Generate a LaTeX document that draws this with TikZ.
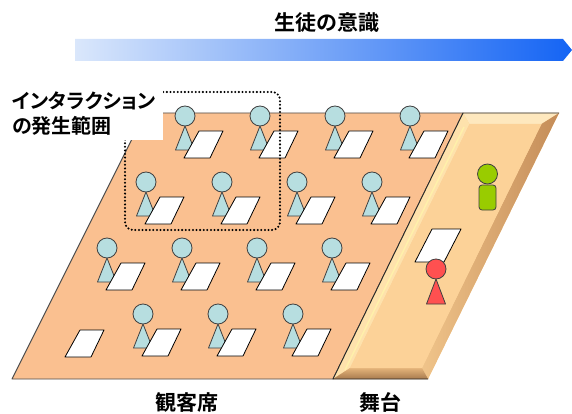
\documentclass[tikz,border=0pt]{standalone}
\usepackage{fontspec}
\setmainfont{Noto Sans CJK JP}[BoldFont={Noto Sans CJK JP Bold}, RawFeature=+palt]
\begin{document}
\begin{tikzpicture}[x=1pt,y=-1pt,
  lbl/.style={font=\bfseries\fontsize{20}{20}\selectfont, inner sep=0pt},
  floorfill/.style={fill=floorc, draw=black!70, line width=0.9pt, line join=round},
  personbody/.style={fill=viewerc, draw=black!75, line width=0.8pt, line join=round},
  paper/.style={fill=white, draw=black, line width=0.8pt, line join=round},
  zone/.style={draw=black, line width=2.3pt, line cap=round, dash pattern=on 0pt off 3.6pt, rounded corners=8pt},
  viewer/.pic={
    \filldraw[personbody] (0,10) -- (-9.5,34) -- (9.5,34) -- cycle;
    \filldraw[personbody] (0,0) circle[radius=10pt];
    \filldraw[paper] (-1,42) -- (25,42) -- (38,15) -- (14,15) -- cycle;
  },
  desk/.pic={
    \filldraw[paper] (-1,42) -- (25,42) -- (38,15) -- (14,15) -- cycle;
  }]
\definecolor{floorc}{RGB}{250,192,144}
\definecolor{viewerc}{RGB}{183,222,224}
\definecolor{stageface}{RGB}{252,210,152}
\definecolor{arrowlight}{RGB}{218,231,251}
\definecolor{arrowmid}{RGB}{165,188,248}
\definecolor{arrowdark}{RGB}{20,100,244}
\useasboundingbox (0,0) rectangle (572,414);

% awareness arrow and its heading
\shade[left color=arrowlight, middle color=arrowmid, right color=arrowdark]
  (75,39) -- (563,39) -- (572,50) -- (563,61) -- (75,61) -- cycle;
\node[lbl, font=\bfseries\fontsize{21}{21}\selectfont] (title) at (327,23) {生徒の意識};

% audience floor
\filldraw[floorfill] (145,113) -- (463,113) -- (333,379) -- (12,379) -- cycle;

% bevelled stage
\coordinate (sA) at (463,113);
\coordinate (sB) at (559,113);
\coordinate (sC) at (428,379);
\coordinate (sD) at (333,379);
\coordinate (ia) at (469.5,124);
\coordinate (ib) at (541.5,124);
\coordinate (ic) at (422,368);
\coordinate (id) at (350,368);
\fill[stageface] (sA) -- (sB) -- (sC) -- (sD) -- cycle;
\fill[color={rgb,255:red,254;green,232;blue,190}] (sA) -- (sB) -- (ib) -- (ia) -- cycle;
\fill[color={rgb,255:red,254;green,226;blue,172}] (sA) -- (ia) -- (id) -- (sD) -- cycle;
\shade[left color={rgb,255:red,240;green,196;blue,138}, right color={rgb,255:red,196;green,140;blue,88}]
  (sB) -- (sC) -- (ic) -- (ib) -- cycle;
\shade[top color={rgb,255:red,228;green,180;blue,122}, bottom color={rgb,255:red,168;green,122;blue,78}]
  (id) -- (ic) -- (sC) -- (sD) -- cycle;
\fill[stageface] (ia) -- (ib) -- (ic) -- (id) -- cycle;
\draw[color={rgb,255:red,255;green,240;blue,170}, line width=1.5pt] (464,127) -- (345,370);
\draw[black!85, line width=0.9pt, line join=round] (sB) -- (sA) -- (sD) -- (sC);

% audience members
\foreach \hx in {185,260,335,410} \pic at (\hx,116) {viewer};
\foreach \hx in {146,222,297,372} \pic at (\hx,182) {viewer};
\foreach \hx in {107,182,257,332} \pic at (\hx,248) {viewer};
\pic at (66,315) {desk};
\foreach \hx in {143,218,293} \pic at (\hx,314) {viewer};

% performers on stage
\filldraw[personbody, fill={rgb,255:red,153;green,204;blue,0}, rounded corners=3pt]
  (479,185) rectangle (496,210);
\filldraw[personbody, fill={rgb,255:red,153;green,204;blue,0}] (487.5,174) circle[radius=10pt];
\filldraw[paper] (432,229) -- (461,229) -- (444,262) -- (415,262) -- cycle;
\filldraw[personbody, fill={rgb,255:red,255;green,80;blue,80}] (436,279) -- (426.5,304) -- (445.5,304) -- cycle;
\filldraw[personbody, fill={rgb,255:red,255;green,80;blue,80}] (436,269) circle[radius=10pt];

% interaction zone and its caption
\draw[zone] (125,92) rectangle (280,230);
\fill[white] (0,78) rectangle (163,140);
\node[lbl, anchor=west] (zone1) at (12,101) {インタラクション};
\node[lbl, anchor=west] (zone2) at (12,126) {の発生範囲};

% area captions
\node[lbl, font=\bfseries\fontsize{21}{21}\selectfont] (audlabel) at (187,402) {観客席};
\node[lbl, font=\bfseries\fontsize{21}{21}\selectfont] (stagelabel) at (380,402) {舞台};
\end{tikzpicture}
\end{document}
